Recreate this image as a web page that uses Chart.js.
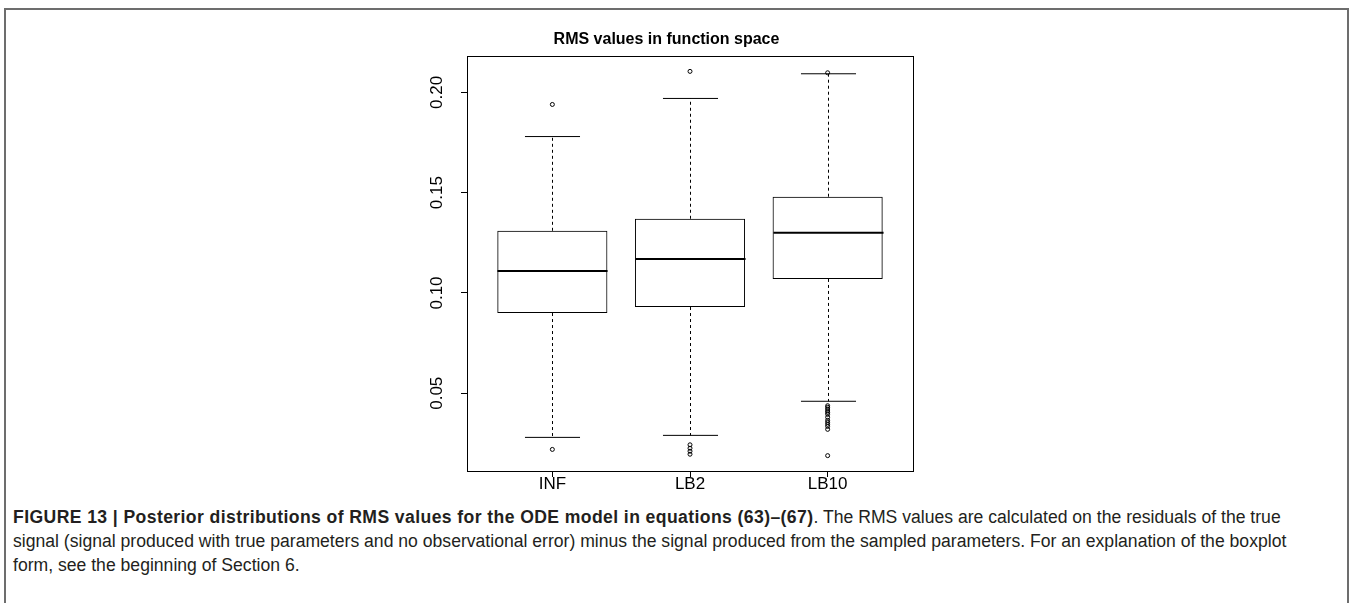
<!DOCTYPE html>
<html>
<head>
<meta charset="utf-8">
<script src="https://cdn.jsdelivr.net/npm/chart.js@4.4.0/dist/chart.umd.min.js"></script>
<style>
  html, body { margin: 0; padding: 0; background: #fff; }
  body { width: 1352px; height: 603px; position: relative; overflow: hidden; font-family: "Liberation Sans", Arial, sans-serif; }
  #frame { position: absolute; left: 4px; top: 8px; width: 1341px; height: 640px; border: 2px solid #6d6d6d; border-bottom: none; }
  #plot { position: absolute; left: 420px; top: 20px; width: 540px; height: 480px; }
  #caption { position: absolute; left: 13px; top: 505px; white-space: nowrap; font-size: 17.6px; line-height: 24px; color: #231f20; }
  #caption b { letter-spacing: 0.4px; }
</style>
</head>
<body>
<div id="frame"></div>
<div id="plot"><canvas id="rmsChart"></canvas></div>
<div id="caption"><b>FIGURE 13 | Posterior distributions of RMS values for the ODE model in equations (63)–(67)</b>. The RMS values are calculated on the residuals of the true<br>signal (signal produced with true parameters and no observational error) minus the signal produced from the sampled parameters. For an explanation of the boxplot<br>form, see the beginning of Section 6.</div>
<script>
// Datos del boxplot
const categories = ['INF', 'LB2', 'LB10'];
const q1 = [0.090, 0.093, 0.107];
const medians = [0.111, 0.117, 0.130];
const q3 = [0.131, 0.137, 0.148];
const whiskerLow = [0.028, 0.029, 0.046];
const whiskerHigh = [0.178, 0.197, 0.2093];
const outliersINF = [0.194, 0.022];
const outliersLB2 = [0.2105, 0.0243, 0.0226, 0.0211, 0.0196];
const outliersLB10 = [0.2098, 0.0438, 0.0430, 0.0421, 0.0412, 0.0404, 0.0395, 0.0380, 0.0365, 0.0355, 0.0345, 0.0335, 0.0320, 0.0189];
const yTicks = [0.05, 0.10, 0.15, 0.20];

// Datos para Chart.js
const boxData = categories.map((c, i) => ({ x: i + 1, y: [q1[i], q3[i]] }));
const outlierData = [];
[outliersINF, outliersLB2, outliersLB10].forEach((arr, i) => {
  arr.forEach(v => outlierData.push({ x: i + 1, y: v }));
});

// Rango como en R (4% extra a cada lado)
const allValues = [].concat(whiskerLow, whiskerHigh, outliersINF, outliersLB2, outliersLB10);
const dataMin = Math.min(...allValues);
const dataMax = Math.max(...allValues);
const yPad = (dataMax - dataMin) * 0.04;
const xPad = categories.length * 0.04;

const axisFont = { family: '"Liberation Sans", Arial, sans-serif', size: 17 };

// Bigotes, topes, medianas y marco
const boxplotLines = {
  id: 'boxplotLines',
  afterDatasetsDraw(chart) {
    const ctx = chart.ctx;
    const xs = chart.scales.x;
    const ys = chart.scales.y;
    const bars = chart.getDatasetMeta(0).data;
    ctx.save();
    ctx.strokeStyle = '#000';
    categories.forEach((c, i) => {
      const x = Math.round(xs.getPixelForValue(i + 1)) + 0.5;
      const half = bars[i].width / 2;
      const cap = half / 2;
      const yq1 = ys.getPixelForValue(q1[i]);
      const yq3 = ys.getPixelForValue(q3[i]);
      const yLo = ys.getPixelForValue(whiskerLow[i]);
      const yHi = ys.getPixelForValue(whiskerHigh[i]);
      const yMed = ys.getPixelForValue(medians[i]);

      ctx.lineWidth = 1;
      ctx.setLineDash([3, 3]);
      ctx.beginPath();
      ctx.moveTo(x, yq3); ctx.lineTo(x, yHi);
      ctx.moveTo(x, yq1); ctx.lineTo(x, yLo);
      ctx.stroke();

      ctx.setLineDash([]);
      ctx.beginPath();
      ctx.moveTo(x - cap, yHi); ctx.lineTo(x + cap, yHi);
      ctx.moveTo(x - cap, yLo); ctx.lineTo(x + cap, yLo);
      ctx.stroke();

      ctx.lineWidth = 2;
      ctx.beginPath();
      ctx.moveTo(x - half, yMed); ctx.lineTo(x + half, yMed);
      ctx.stroke();
    });
    const a = chart.chartArea;
    ctx.lineWidth = 1;
    ctx.strokeRect(Math.round(a.left) + 0.5, Math.round(a.top) + 0.5, Math.round(a.right - a.left), Math.round(a.bottom - a.top));
    ctx.restore();
  }
};

const rmsChart = new Chart(document.getElementById('rmsChart').getContext('2d'), {
  type: 'bar',
  data: {
    datasets: [{
      type: 'bar',
      data: boxData,
      backgroundColor: 'rgba(255,255,255,0)',
      borderColor: '#000',
      borderWidth: 1,
      borderSkipped: false,
      barPercentage: 0.8,
      categoryPercentage: 1.0,
      grouped: false
    }, {
      type: 'scatter',
      data: outlierData,
      pointStyle: 'circle',
      pointRadius: 2,
      pointBorderWidth: 1,
      pointBorderColor: '#000',
      pointBackgroundColor: 'rgba(255,255,255,0)',
      showLine: false
    }]
  },
  options: {
    responsive: true,
    maintainAspectRatio: false,
    animation: false,
    devicePixelRatio: 1,
    layout: { padding: { left: 0, right: 47, top: 0, bottom: 0 } },
    plugins: {
      legend: { display: false },
      tooltip: { enabled: false },
      title: {
        display: true,
        text: 'RMS values in function space',
        color: '#000',
        font: { family: '"Liberation Sans", Arial, sans-serif', size: 16, weight: 'bold' },
        padding: { top: 10.4, bottom: 6.4 }
      }
    },
    scales: {
      x: {
        type: 'linear',
        offset: false,
        min: 0.5 - xPad,
        max: categories.length + 0.5 + xPad,
        afterBuildTicks: s => { s.ticks = categories.map((c, i) => ({ value: i + 1 })); },
        afterFit: s => { s.height = 29; },
        ticks: {
          callback: v => categories[v - 1],
          color: '#000',
          font: axisFont,
          padding: -3,
          autoSkip: false,
          maxRotation: 0
        },
        grid: { drawOnChartArea: false, offset: false, tickLength: 6, tickColor: '#000' },
        border: { display: false }
      },
      y: {
        min: dataMin - yPad,
        max: dataMax + yPad,
        afterBuildTicks: s => { s.ticks = yTicks.map(v => ({ value: v })); },
        afterFit: s => { s.width = 47; },
        ticks: {
          callback: v => v.toFixed(2),
          color: '#000',
          font: axisFont,
          minRotation: 90,
          maxRotation: 90,
          crossAlign: 'center',
          padding: 7
        },
        grid: { drawOnChartArea: false, tickLength: 6, tickColor: '#000' },
        border: { display: false }
      }
    }
  },
  plugins: [boxplotLines]
});
</script>
</body>
</html>
